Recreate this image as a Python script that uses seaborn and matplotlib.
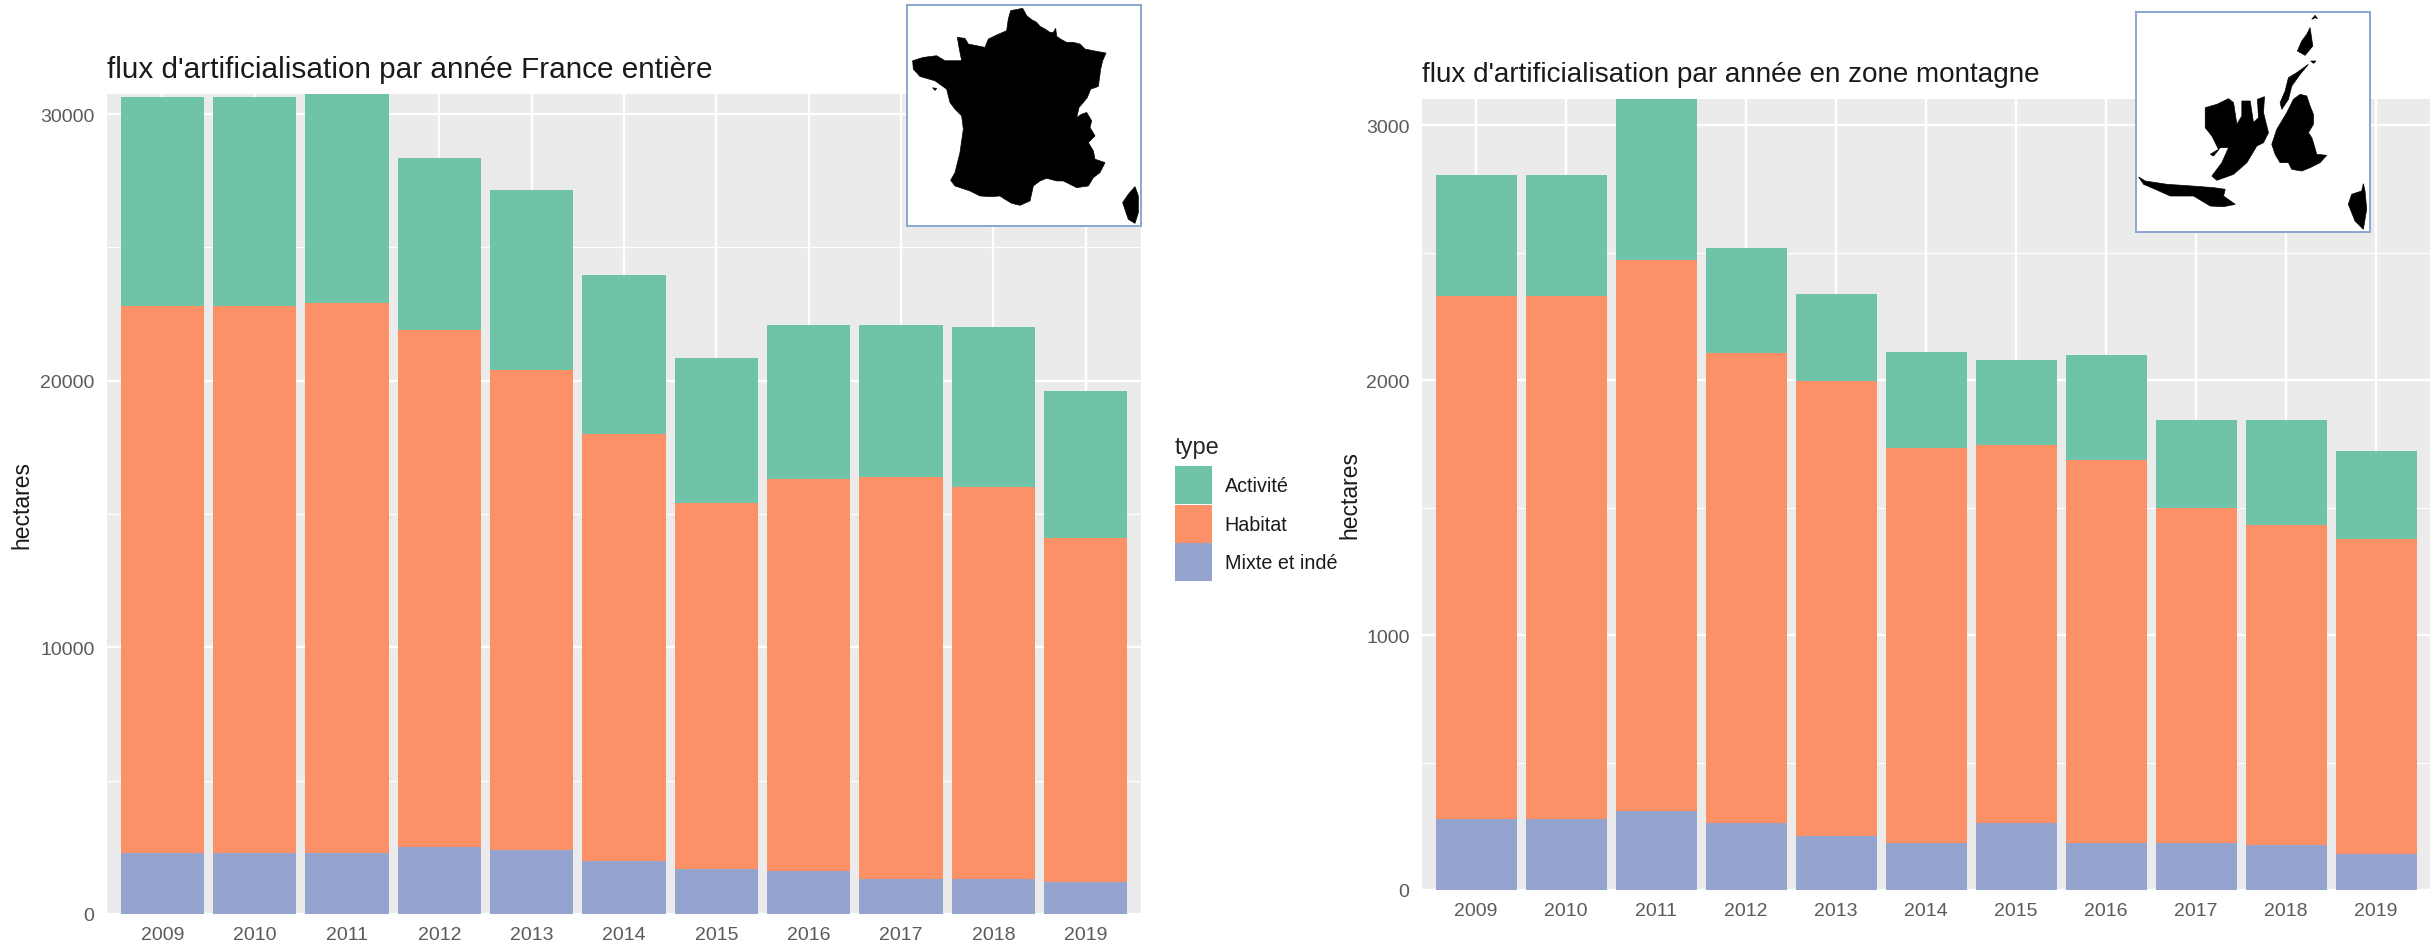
import matplotlib
matplotlib.use("Agg")
import matplotlib.pyplot as plt
import seaborn as sns
import pandas as pd
import numpy as np
from matplotlib.patches import Patch

years = ["2009","2010","2011","2012","2013","2014","2015","2016","2017","2018","2019"]
types = ["Mixte et indé", "Habitat", "Activité"]
colors = {"Activité": "#6FC3A8", "Habitat": "#FC9066", "Mixte et indé": "#94A4CE"}

# cumulative levels
fr_mixte   = [2270,2270,2270,2500,2400,2000,1700,1600,1300,1300,1200]
fr_habitat = [22800,22800,22900,21900,20400,18000,15400,16300,16400,16000,14100]
fr_total   = [30650,30650,30750,28350,27150,23950,20850,22100,22100,22000,19600]
mt_mixte   = [280,280,310,262,213,183,262,183,183,176,140]
mt_habitat = [2330,2330,2470,2105,1995,1735,1747,1685,1497,1430,1375]
mt_total   = [2805,2805,3103,2520,2337,2112,2081,2100,1844,1844,1722]

# silhouette outlines (inset pixel coordinates)
france = [(385,60),(392,35),(428,28),(440,50),(455,62),(470,70),(480,82),(495,90),(510,100),(520,100),(527,88),(530,112),(545,122),(560,130),(580,130),(600,135),(615,150),(640,155),(678,162),(668,185),(662,210),(658,240),(655,262),(632,270),(622,295),(610,310),(597,325),(590,355),(605,345),(620,340),(635,365),(630,385),(645,410),(625,430),(640,455),(645,480),(675,490),(660,520),(640,535),(625,560),(590,565),(570,555),(550,545),(530,545),(500,537),(480,545),(460,560),(450,605),(420,618),(395,612),(375,600),(360,590),(330,592),(300,590),(270,575),(225,560),(212,543),(225,520),(240,460),(250,390),(245,350),(225,330),(210,310),(200,270),(165,245),(120,232),(100,210),(98,185),(130,175),(170,170),(195,185),(245,185),(238,150),(232,115),(255,118),(265,135),(315,145),(325,120),(350,108),(380,95)]
corse_fr = [(765,562),(775,590),(775,640),(765,672),(745,660),(728,610),(745,585)]
ile_fr = [(158,266),(170,268),(165,274)]
vosges = [(630,85),(638,140),(615,168),(592,155),(605,125),(620,105)]
nord = [(635,60),(645,48),(652,58),(645,55)]
sundgau = [(632,185),(648,185),(640,192)]
jura = [(625,195),(590,220),(565,235),(555,275),(540,310),(545,330),(565,300),(575,260),(600,225)]
alpes = [(600,285),(620,290),(630,320),(640,345),(640,375),(625,400),(635,415),(640,430),(650,465),(680,468),(660,490),(630,505),(605,515),(575,510),(565,490),(540,490),(525,465),(515,435),(530,390),(560,340),(580,300)]
massif = [(385,298),(400,310),(410,375),(425,350),(425,305),(450,305),(460,370),(475,355),(472,300),(493,292),(490,340),(505,400),(490,430),(470,440),(440,490),(400,525),(350,543),(335,530),(365,490),(385,445),(360,445),(340,470),(330,465),(355,450),(335,410),(315,385),(315,325),(350,315)]
pyrenees = [(115,533),(135,545),(200,555),(275,560),(340,565),(375,570),(370,590),(405,615),(370,622),(330,620),(280,590),(210,590),(165,570),(130,555)]
corse_mt = [(790,553),(795,575),(800,630),(790,690),(765,665),(745,615),(755,585),(785,575)]

W, H = 2435, 945
sns.set_theme(style="darkgrid")
plt.rcParams["font.family"] = ["Liberation Sans", "DejaVu Sans"]

fig = plt.figure(figsize=(W/100, H/100), dpi=100, facecolor="white")

def box(x0, y0, x1, y1):
    return [x0/W, 1-y1/H, (x1-x0)/W, (y1-y0)/H]

def panel(rect, mixte, habitat, total, ymax, major, minor, title, title_x, title_y, title_fs, ylab_x, ylab_y):
    ax = fig.add_axes(box(*rect), facecolor="#EBEBEB")
    mixte, habitat, total = map(np.array, (mixte, habitat, total))
    segs = {"Mixte et indé": (mixte, 0*mixte), "Habitat": (habitat-mixte, mixte), "Activité": (total-habitat, habitat)}
    for t in types:
        h, b = segs[t]
        df = pd.DataFrame({"year": years, "v": h})
        sns.barplot(data=df, x="year", y="v", color=colors[t], saturation=1, width=0.9,
                    bottom=b, ax=ax, errorbar=None, zorder=3, linewidth=0)
    ax.set_xlim(-0.6, 10.6)
    ax.set_ylim(0, ymax)
    ax.set_yticks(major)
    ax.set_yticks(minor, minor=True)
    ax.grid(True, which="major", color="white", lw=1.6, zorder=0)
    ax.grid(True, which="minor", axis="y", color="white", lw=0.8, zorder=0)
    ax.set_axisbelow(True)
    ax.tick_params(axis="both", which="both", length=0, labelsize=14, labelcolor="#5A5A5A", pad=9)
    ax.set_xlabel(""); ax.set_ylabel("")
    for s in ax.spines.values():
        s.set_visible(False)
    fig.text(title_x/W, 1-title_y/H, title, fontsize=title_fs, color="#1A1A1A", va="center", ha="left")
    fig.text(ylab_x/W, 1-ylab_y/H, "hectares", fontsize=16.5, color="#1A1A1A", rotation=90, va="center", ha="center")
    return ax

panel((107, 95, 1141, 915), fr_mixte, fr_habitat, fr_total, 30750,
      [0,10000,20000,30000], [5000,15000,25000],
      "flux d'artificialisation par année France entière", 107, 70, 21.4, 22, 505)
panel((1422, 100, 2430, 891), mt_mixte, mt_habitat, mt_total, 3103,
      [0,1000,2000,3000], [500,1500,2500],
      "flux d'artificialisation par année en zone montagne", 1422, 75, 20.05, 1350, 495)

def inset(rect, xr, yr, shapes):
    a = fig.add_axes(box(*rect), facecolor="white", zorder=5)
    for sh in shapes:
        xs, ys = zip(*sh)
        a.fill(xs, ys, color="black", lw=0.5)
    a.set_xlim(*xr); a.set_ylim(*yr)
    a.set_xticks([]); a.set_yticks([])
    a.grid(False)
    for s in a.spines.values():
        s.set_visible(True); s.set_color("#8AA6D2"); s.set_linewidth(1.4)

inset((907, 6, 1141, 227), (81, 783), (680, 18), [france, corse_fr, ile_fr])
inset((2136, 13, 2370, 233), (107, 810), (698, 38), [vosges, nord, sundgau, jura, alpes, massif, pyrenees, corse_mt])

handles = [Patch(facecolor=colors[t], edgecolor="none", label=t) for t in ["Activité", "Habitat", "Mixte et indé"]]
leg = fig.legend(handles=handles, title="type", loc="upper left",
                 bbox_to_anchor=(1165/W, 1-427/H), frameon=False,
                 fontsize=14.2, title_fontsize=17, handlelength=1.88, handleheight=2.6,
                 labelspacing=0.02, handletextpad=0.65, borderpad=0.5, borderaxespad=0)
leg._legend_box.align = "left"
leg._legend_box.sep = 6
for txt in leg.get_texts():
    txt.set_color("#1A1A1A")

fig.savefig("out.png", dpi=100, facecolor="white")
